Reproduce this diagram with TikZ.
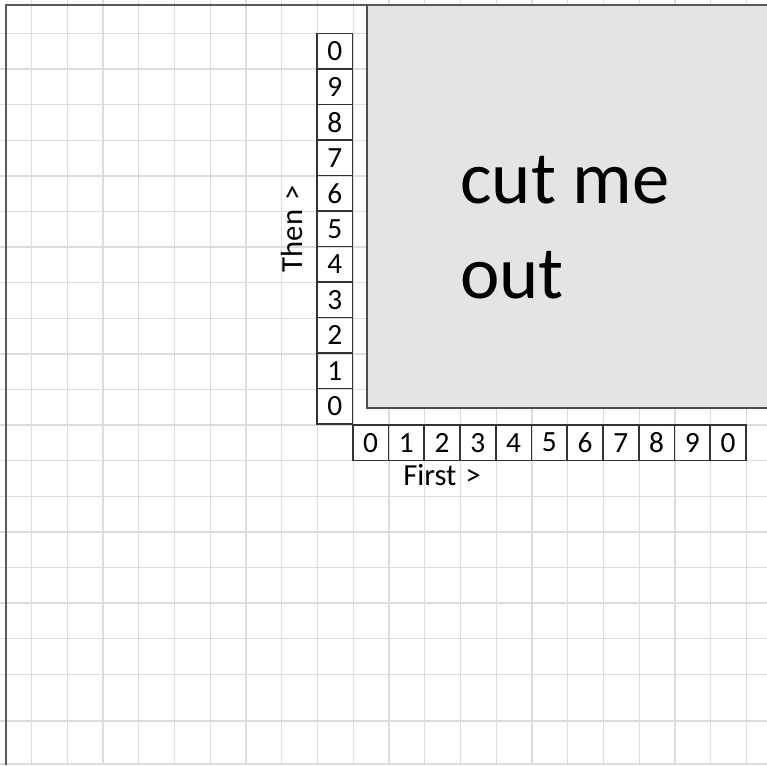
\documentclass[tikz,border=0pt]{standalone}
\usepackage{fontspec}
\setmainfont[Numbers=Lining]{Carlito}
\definecolor{gridgray}{HTML}{DCDCDC}
\definecolor{cutgray}{HTML}{E4E4E4}
\begin{document}
\begin{tikzpicture}[x=0.75pt,y=-0.75pt,
  numbox/.style={draw=black!80,line width=1.2pt,minimum width=26.8pt,minimum height=26.6pt,inner sep=0pt,font=\fontsize{22}{22}\selectfont},
  lbl/.style={inner sep=0pt,font=\fontsize{23}{23}\selectfont}]
\useasboundingbox (0,0) rectangle (767,765);
\fill[white] (0,0) rectangle (767,765);
\foreach \i in {0,...,20}{\draw[gridgray,line width=1pt] (31.5+35.75*\i,0) -- (31.5+35.75*\i,765);}
\foreach \j in {0,...,18}{\draw[gridgray,line width=1pt] (0,33.5+35.6*\j) -- (767,33.5+35.6*\j);}
\draw[gridgray,line width=1pt] (0,721) -- (767,721) (0,764) -- (767,764);
\draw[black!65,line width=1.8pt] (6,765) -- (6,5) -- (767,5);
\fill[cutgray] (367,6) rectangle (767,408);
\draw[black!70,line width=1.5pt] (367,5) -- (367,408) -- (767,408);
\node[anchor=north west,align=left,inner sep=0pt,font=\fontsize{56}{71.25}\selectfont] (cutme) at (460,156) {cut me\\out};
\foreach \i in {0,...,10}{
  \pgfmathtruncatemacro\d{mod(\i,10)}
  \node[numbox] (then\i) at (334.7,406.25-35.5*\i) {\d};
  \node[numbox] (first\i) at (370.6+35.75*\i,442.6) {\d};
}
\node[lbl,rotate=90,anchor=south] (thenlbl) at ([xshift=-10pt]then5.west) {Then\hspace{0.3em}>};
\node[lbl,anchor=north] (firstlbl) at ([yshift=-2pt]first2.south) {First\hspace{0.3em}>};
\end{tikzpicture}
\end{document}
